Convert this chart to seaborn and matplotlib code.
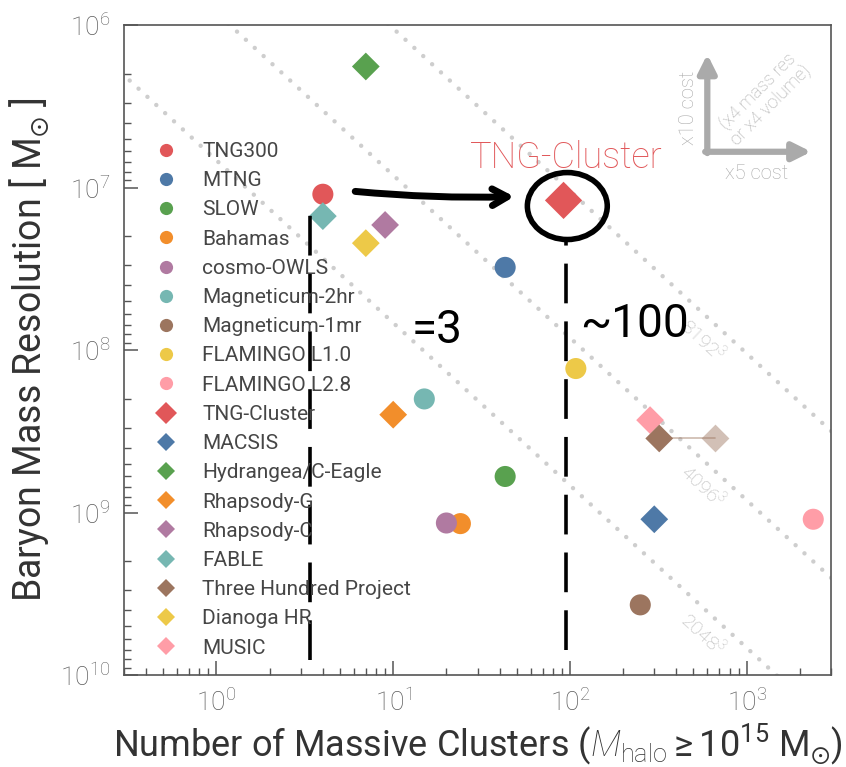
import numpy as np
import pandas as pd
import matplotlib
matplotlib.use("Agg")
import matplotlib.pyplot as plt
import seaborn as sns
from matplotlib.lines import Line2D
from matplotlib.patches import Ellipse

# ---------------- data ----------------
circle_names = ["TNG300", "MTNG", "SLOW", "Bahamas", "cosmo-OWLS",
                "Magneticum-2hr", "Magneticum-1mr", "FLAMINGO L1.0", "FLAMINGO L2.8"]
circle_clusters = [4.0, 43, 43, 24, 20, 15, 250, 108, 2380]
circle_mass = [1.1e7, 3.1e7, 6.0e8, 1.17e9, 1.16e9, 2.0e8, 3.7e9, 1.3e8, 1.1e9]

diamond_names = ["TNG-Cluster", "MACSIS", "Hydrangea/C-Eagle", "Rhapsody-G", "Rhapsody-C",
                 "FABLE", "Three Hundred Project", "Dianoga HR", "MUSIC"]
diamond_clusters = [92, 300, 7.0, 10, 9.0, 4.0, 320, 7.0, 284]
diamond_mass = [1.2e7, 1.1e9, 1.8e6, 2.5e8, 1.7e7, 1.5e7, 3.5e8, 2.2e7, 2.7e8]

series_colors = ["#E15759", "#4E79A7", "#59A14F", "#F28E2B", "#B07AA1",
                 "#76B7B2", "#9C755F", "#EDC948", "#FF9DA7"]

# extended Three Hundred sample (faded)
alt_clusters = [660]
alt_mass = [3.5e8]

# constant-cost reference lines (mass = k * N)
cost_levels = [6.8e6, 8.4e5, 1.05e5]
cost_labels = ["2048$^3$", "4096$^3$", "8192$^3$"]

x_ticks = [1e0, 1e1, 1e2, 1e3]
y_ticks = [1e6, 1e7, 1e8, 1e9, 1e10]

# ---------------- style ----------------
sns.set_theme(style="white")
plt.rcParams["font.family"] = ["Roboto", "DejaVu Sans"]
plt.rcParams["font.weight"] = "light"
plt.rcParams["mathtext.fontset"] = "custom"
plt.rcParams["mathtext.rm"] = "Roboto:light"
plt.rcParams["mathtext.it"] = "Roboto:italic:light"
plt.rcParams["mathtext.default"] = "regular"

fig = plt.figure(figsize=(8.46, 7.67), dpi=100)
ax = fig.add_axes([0.1466, 0.1199, 0.8357, 0.8475])

df = pd.DataFrame({
    "name": circle_names + diamond_names,
    "clusters": circle_clusters + diamond_clusters,
    "mass": circle_mass + diamond_mass,
    "kind": ["circle"] * len(circle_names) + ["diamond"] * len(diamond_names),
    "color": series_colors + series_colors,
})
# draw MUSIC before Three Hundred so the latter sits on top
order = list(df.index)
i_music = df.index[df.name == "MUSIC"][0]
i_300 = df.index[df.name == "Three Hundred Project"][0]
order.remove(i_music)
order.insert(order.index(i_300), i_music)
df_plot = df.loc[order]

palette = dict(zip(df.name, df.color))
markers = {n: ("o" if k == "circle" else "D") for n, k in zip(df.name, df.kind)}
sizes = {n: (230 if k == "circle" else 200) for n, k in zip(df.name, df.kind)}
sizes["TNG-Cluster"] = 360

# constant cost lines
xx = np.logspace(-1, 4, 200)
for k, lab in zip(cost_levels, cost_labels):
    ax.plot(xx, k * xx, color="#cecece", lw=3.2, ls=(0, (0.01, 2.7)),
            dash_capstyle="round", zorder=1)
    xl = 570
    ax.text(xl, k * xl * 1.42, lab, rotation=-43, color="#bababa", fontsize=14,
            ha="center", va="center", zorder=1)

# connecting line + faded Three Hundred point
ax.plot([diamond_clusters[6], alt_clusters[0]], [diamond_mass[6], alt_mass[0]],
        color="#9C755F", alpha=0.5, lw=1.2, zorder=2)
ax.scatter(alt_clusters, alt_mass, marker="D", s=200, color="#9C755F",
           alpha=0.45, linewidths=0, zorder=2)

sns.scatterplot(data=df_plot, x="clusters", y="mass", hue="name", style="name",
                size="name", palette=palette, markers=markers, sizes=sizes,
                linewidth=0, legend=False, ax=ax, zorder=3)

ax.set_xscale("log")
ax.set_yscale("log")
ax.set_xlim(0.3, 3000)
ax.set_ylim(1e10, 1e6)
ax.set_xticks(x_ticks)
ax.set_yticks(y_ticks)

for side in ["top", "right", "left", "bottom"]:
    ax.spines[side].set_color("#555555")
    ax.spines[side].set_linewidth(1.2)
ax.tick_params(which="major", direction="in", length=10, width=1.1,
               color="#555555", labelsize=19, labelcolor="#5a5a5a",
               bottom=True, left=True, top=False, right=False, pad=10)
ax.tick_params(which="minor", direction="in", length=5, width=1.0,
               color="#555555", bottom=True, left=True, top=False, right=False)

ax.set_xlabel(r"Number of Massive Clusters ($\mathit{M}_{\mathrm{halo}} \geq 10^{15}$ M$_{\odot}$)",
              fontsize=26, color="#333333", labelpad=4)
ax.set_ylabel(r"Baryon Mass Resolution [ M$_{\odot}$ ]", fontsize=27,
              color="#333333", labelpad=6)

# legend
handles = []
labels = []
for n, c in zip(circle_names, series_colors):
    handles.append(Line2D([], [], ls="", marker="o", markersize=9.5,
                          markerfacecolor=c, markeredgewidth=0))
    labels.append(n)
for n, c in zip(diamond_names, series_colors):
    ms = 11.5 if n == "TNG-Cluster" else 9.5
    handles.append(Line2D([], [], ls="", marker="D", markersize=ms,
                          markerfacecolor=c, markeredgewidth=0))
    labels.append(n)
leg = ax.legend(handles, labels, loc="upper left", bbox_to_anchor=(0.046, 0.820),
                frameon=False, prop={"size": 15, "weight": "normal"},
                labelspacing=0.49, handlelength=0.9, handletextpad=1.3,
                borderpad=0, borderaxespad=0)
for t in leg.get_texts():
    t.set_color("#464646")

# TNG-Cluster label
ax.text(0.625, 0.795, "TNG-Cluster", transform=ax.transAxes, color="#E15759",
        fontsize=26, ha="center", va="center")

# cost arrows (top right)
arrow_kw = dict(arrowstyle="-|>,head_length=0.9,head_width=0.45", color="#aaaaaa",
                lw=4.5, shrinkA=0, shrinkB=0)
ax.annotate("", xy=(0.825, 0.955), xytext=(0.825, 0.803), xycoords="axes fraction",
            arrowprops=arrow_kw)
ax.annotate("", xy=(0.972, 0.805), xytext=(0.822, 0.805), xycoords="axes fraction",
            arrowprops=arrow_kw)
ax.text(0.798, 0.873, "x10 cost", transform=ax.transAxes, rotation=90,
        color="#a8a8a8", fontsize=14.5, ha="center", va="center")
ax.text(0.895, 0.771, "x5 cost", transform=ax.transAxes, color="#a8a8a8",
        fontsize=14.5, ha="center", va="center")
ax.text(0.905, 0.888, "(x4 mass res\nor x4 volume)", transform=ax.transAxes,
        rotation=45, color="#adadad", fontsize=13, ha="center", va="center",
        linespacing=1.0)

# hand-drawn style annotations
ax.annotate("", xy=(0.552, 0.736), xytext=(0.327, 0.744), xycoords="axes fraction",
            arrowprops=dict(arrowstyle="->,head_length=0.9,head_width=0.5",
                            color="black", lw=5, shrinkA=0, shrinkB=0,
                            connectionstyle="arc3,rad=0.03"))
ax.add_patch(Ellipse((0.627, 0.7215), 0.113, 0.103, transform=ax.transAxes,
                     fill=False, ec="black", lw=4, zorder=5))
ax.axvline(3.4, ymin=0.023, ymax=0.708, color="black", lw=2.6,
           ls=(0, (11, 5)), zorder=4)
ax.axvline(95, ymin=0.038, ymax=0.669, color="black", lw=2.6,
           ls=(0, (11, 5)), zorder=4)
ax.text(0.443, 0.531, "=3", transform=ax.transAxes, fontsize=33,
        fontweight="normal", color="black", ha="center", va="center", zorder=5)
ax.text(0.722, 0.540, "~100", transform=ax.transAxes, fontsize=33,
        fontweight="normal", color="black", ha="center", va="center", zorder=5)

fig.savefig("out.png", dpi=100)
